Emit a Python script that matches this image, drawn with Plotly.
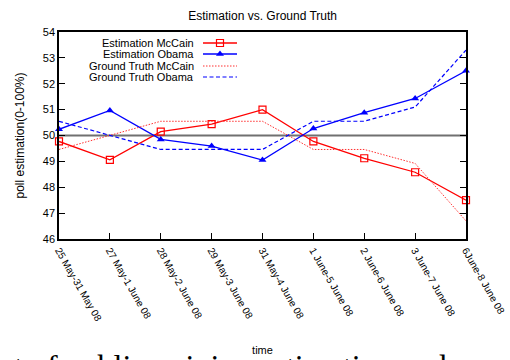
import plotly.graph_objects as go

# Poll windows (x categories)
periods = [
    "25 May-31 May 08", "27 May-1 June 08", "28 May-2 June 08",
    "29 May-3 June 08", "31 May-4 June 08", "1 June-5 June 08",
    "2 June-6 June 08", "3 June-7 June 08", "6June-8 June 08",
]

# Estimated shares (%)
est_mccain = [49.77, 49.06, 50.15, 50.44, 51.0, 49.77, 49.12, 48.58, 47.5]
est_obama = [50.24, 50.97, 49.85, 49.59, 49.05, 50.27, 50.88, 51.43, 52.5]

# Ground truth shares (%)
gt_mccain = [49.46, 50.0, 50.55, 50.55, 50.55, 49.46, 49.46, 48.92, 46.7]
gt_obama = [50.55, 50.0, 49.46, 49.46, 49.46, 50.55, 50.55, 51.1, 53.3]

reference_level = 50
y_ticks = [46, 47, 48, 49, 50, 51, 52, 53, 54]

RED = "#ff0000"
BLUE = "#0000ff"
FONT = "Liberation Sans, Arial, sans-serif"

series = [
    dict(name="Estimation McCain", y=est_mccain,
         line=dict(color=RED, width=1.3),
         marker=dict(symbol="square-open", size=7, color=RED, line=dict(width=1.2)),
         mode="lines+markers"),
    dict(name="Estimation Obama", y=est_obama,
         line=dict(color=BLUE, width=1.3),
         marker=dict(symbol="triangle-up", size=7, color=BLUE),
         mode="lines+markers"),
    dict(name="Ground Truth McCain", y=gt_mccain,
         line=dict(color="#ff3030", width=1, dash="1.5px,1.5px"),
         marker=None, mode="lines"),
    dict(name="Ground Truth Obama", y=gt_obama,
         line=dict(color=BLUE, width=1.2, dash="4px,2.5px"),
         marker=None, mode="lines"),
]

fig = go.Figure()

for s in series:
    kw = dict(x=periods, y=s["y"], mode=s["mode"], line=s["line"],
              name=s["name"], showlegend=False, cliponaxis=False)
    if s["marker"]:
        kw["marker"] = s["marker"]
    fig.add_trace(go.Scatter(**kw))

# Key drawn on an overlay axis measured in pixels from the plot's top-left
key_rows = [11, 22, 34, 45]
key_x0, key_x1, key_mid, key_text = 144, 178, 161, 137
for s, ry in zip(series, key_rows):
    fig.add_trace(go.Scatter(x=[key_x0, key_x1], y=[ry, ry], mode="lines",
                             line=s["line"], xaxis="x2", yaxis="y2",
                             showlegend=False, hoverinfo="skip"))
    if s["marker"]:
        fig.add_trace(go.Scatter(x=[key_mid], y=[ry], mode="markers",
                                 marker=s["marker"], xaxis="x2", yaxis="y2",
                                 showlegend=False, hoverinfo="skip"))
    fig.add_annotation(x=key_text, y=ry, xref="x2", yref="y2", text=s["name"],
                       showarrow=False, xanchor="right", yanchor="middle",
                       font=dict(family=FONT, size=11, color="black"))

fig.add_shape(type="line", xref="paper", yref="y", x0=0, x1=1,
              y0=reference_level, y1=reference_level,
              line=dict(color="#707070", width=2.2), layer="below")

fig.update_layout(
    width=510, height=360,
    margin=dict(l=59, r=44, t=32, b=121),
    paper_bgcolor="white", plot_bgcolor="white",
    font=dict(family=FONT, color="black"),
    title=dict(text="Estimation vs. Ground Truth", x=0.515, xanchor="center",
               y=0.955, yanchor="middle", font=dict(size=12)),
    xaxis=dict(
        type="category", range=[0, len(periods) - 1], automargin=False,
        showgrid=False, zeroline=False,
        showline=True, linecolor="black", linewidth=1.5, mirror=True,
        ticks="inside", ticklen=6, tickcolor="black",
        tickangle=60, tickfont=dict(size=10),
        title=dict(text="time", font=dict(size=11), standoff=24),
    ),
    yaxis=dict(
        range=[46, 54], tickvals=y_ticks, automargin=False,
        showgrid=False, zeroline=False,
        showline=True, linecolor="black", linewidth=1.5, mirror="ticks",
        ticks="inside", ticklen=6, tickcolor="black",
        tickfont=dict(size=11),
        title=dict(text="poll estimation(0-100%)", font=dict(size=12), standoff=16),
    ),
    xaxis2=dict(overlaying="x", range=[0, 407], visible=False, fixedrange=True),
    yaxis2=dict(overlaying="y", range=[207, 0], visible=False, fixedrange=True),
)

# Caption of the surrounding page, cut off at the bottom edge
fig.add_annotation(x=-63 / 407, y=-107 / 207, xref="paper", yref="paper",
                   text="nt of public opinion estimation and",
                   showarrow=False, xanchor="left", yanchor="top",
                   font=dict(family="Liberation Serif, Times New Roman, serif",
                             size=32, color="black"))

fig.write_html("out.html")
